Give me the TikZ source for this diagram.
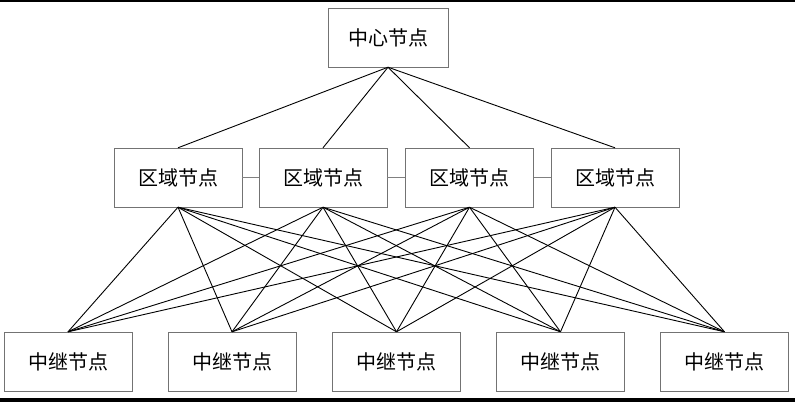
\documentclass[tikz,border=0pt]{standalone}
\usepackage{fontspec}
\setmainfont{Noto Sans CJK SC}
\usetikzlibrary{positioning}
\tikzset{
    x=1pt,y=-1pt,
    box/.style ={rectangle, draw=black!55, thin, minimum width=128pt, minimum height=59pt, inner sep=0pt, font=\fontsize{20}{24}\selectfont},
    link/.style ={draw=black, line width=0.9pt},
    peer/.style ={draw=black!50, thin}
}
\begin{document}
\begin{tikzpicture}
  \useasboundingbox (0,0) rectangle (795,402);
  \fill[black] (0,0) rectangle (795,1.5);
  \fill[black] (0,397.7) rectangle (795,402);

  \node[box, minimum width=120pt] (c) at (388, 37.5) {中心节点};

  \node[box] (r1) at (178, 177.5) {区域节点};
  \node[box] (r2) at (323, 177.5) {区域节点};
  \node[box] (r3) at (469.5, 177.5) {区域节点};
  \node[box] (r4) at (615, 177.5) {区域节点};

  \node[box] (m1) at (68, 361.5) {中继节点};
  \node[box] (m2) at (232, 361.5) {中继节点};
  \node[box] (m3) at (396.5, 361.5) {中继节点};
  \node[box] (m4) at (560.5, 361.5) {中继节点};
  \node[box] (m5) at (724.5, 361.5) {中继节点};

  \path[link] (c.south) edge (r1.north) edge (r2.north) edge (r3.north) edge (r4.north);

  \path[peer] (r1) edge (r2);
  \path[peer] (r2) edge (r3);
  \path[peer] (r3) edge (r4);

  \path[link] (r1.south) edge (m1.north) edge (m2.north) edge (m3.north) edge (m4.north) edge (m5.north);
  \path[link] (r2.south) edge (m1.north) edge (m2.north) edge (m3.north) edge (m4.north) edge (m5.north);
  \path[link] (r3.south) edge (m1.north) edge (m2.north) edge (m3.north) edge (m4.north) edge (m5.north);
  \path[link] (r4.south) edge (m1.north) edge (m2.north) edge (m3.north) edge (m4.north) edge (m5.north);
\end{tikzpicture}
\end{document}
